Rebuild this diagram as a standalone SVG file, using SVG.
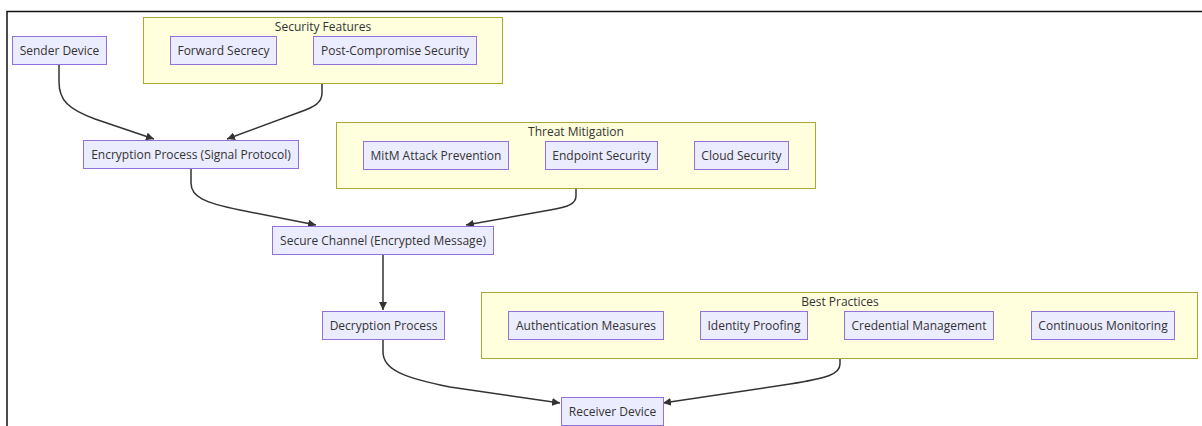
<svg xmlns="http://www.w3.org/2000/svg" width="1202" height="426" viewBox="0 0 1202 426">
  <style>
    .frame { fill: none; stroke: #111; stroke-width: 1.5; }
    .cluster rect { fill: #ffffde; stroke: #aaaa33; stroke-width: 1; }
    .node rect { fill: #ececff; stroke: #9370db; stroke-width: 1; }
    text { font-family: "Open Sans", "Liberation Sans", sans-serif; font-size: 12px; fill: #333; text-anchor: middle; dominant-baseline: central; }
    .edge { fill: none; stroke: #333; stroke-width: 1.5; }
  </style>
  <defs>
    <marker id="arrow" viewBox="0 0 10 10" refX="10" refY="5" markerWidth="8" markerHeight="8" markerUnits="userSpaceOnUse" orient="auto">
      <path d="M0,0 L10,5 L0,10 z" fill="#333"/>
    </marker>
  </defs>

  <!-- outer frame -->
  <path class="frame" d="M7,426 L7,11.5 L1202,11.5"/>

  <!-- clusters -->
  <g id="cluster-security-features" class="cluster">
    <rect x="143.5" y="17.5" width="359" height="66"/>
    <text x="323" y="26">Security Features</text>
  </g>
  <g id="cluster-threat-mitigation" class="cluster">
    <rect x="336.5" y="122.5" width="479" height="66"/>
    <text x="576" y="131">Threat Mitigation</text>
  </g>
  <g id="cluster-best-practices" class="cluster">
    <rect x="481.5" y="292.5" width="716" height="66"/>
    <text x="840" y="301">Best Practices</text>
  </g>

  <!-- connectors -->
  <g id="edges">
    <path class="edge" marker-end="url(#arrow)" d="M59,65 L59,82 C59,100 68,109 95,119 L154,139"/>
    <path class="edge" marker-end="url(#arrow)" d="M322,84 L322,93 C322,103 314,107 300,112 L227,139"/>
    <path class="edge" marker-end="url(#arrow)" d="M191,169 L191,183 C191,197 205,203 240,210 L316,225"/>
    <path class="edge" marker-end="url(#arrow)" d="M576,189 L576,196 C576,204 568,207 550,210 L466,225"/>
    <path class="edge" marker-end="url(#arrow)" d="M383,255 L383,310"/>
    <path class="edge" marker-end="url(#arrow)" d="M383,340 L383,352 C383,370 405,378 450,387 L560,403"/>
    <path class="edge" marker-end="url(#arrow)" d="M840,359 L840,364 C840,374 828,378 790,384 L663,403"/>
  </g>

  <!-- nodes -->
  <g id="sender-device" class="node">
    <rect x="12.5" y="36.5" width="94" height="28"/>
    <text x="59.5" y="50.5">Sender Device</text>
  </g>
  <g id="forward-secrecy" class="node">
    <rect x="170.5" y="36.5" width="106" height="28"/>
    <text x="223.5" y="50.5">Forward Secrecy</text>
  </g>
  <g id="post-compromise-security" class="node">
    <rect x="313.5" y="36.5" width="163" height="28"/>
    <text x="395" y="50.5">Post-Compromise Security</text>
  </g>
  <g id="encryption-process" class="node">
    <rect x="83.5" y="140.5" width="215" height="28"/>
    <text x="191" y="154.5">Encryption Process (Signal Protocol)</text>
  </g>
  <g id="mitm-attack-prevention" class="node">
    <rect x="363.5" y="141.5" width="145" height="28"/>
    <text x="436" y="155.5">MitM Attack Prevention</text>
  </g>
  <g id="endpoint-security" class="node">
    <rect x="545.5" y="141.5" width="112" height="28"/>
    <text x="601.5" y="155.5">Endpoint Security</text>
  </g>
  <g id="cloud-security" class="node">
    <rect x="694.5" y="141.5" width="94" height="28"/>
    <text x="741.5" y="155.5">Cloud Security</text>
  </g>
  <g id="secure-channel" class="node">
    <rect x="272.5" y="226.5" width="221" height="28"/>
    <text x="383" y="240.5">Secure Channel (Encrypted Message)</text>
  </g>
  <g id="decryption-process" class="node">
    <rect x="322.5" y="311.5" width="122" height="28"/>
    <text x="383.5" y="325.5">Decryption Process</text>
  </g>
  <g id="authentication-measures" class="node">
    <rect x="508.5" y="311.5" width="155" height="28"/>
    <text x="586" y="325.5">Authentication Measures</text>
  </g>
  <g id="identity-proofing" class="node">
    <rect x="700.5" y="311.5" width="107" height="28"/>
    <text x="754" y="325.5">Identity Proofing</text>
  </g>
  <g id="credential-management" class="node">
    <rect x="844.5" y="311.5" width="149" height="28"/>
    <text x="919" y="325.5">Credential Management</text>
  </g>
  <g id="continuous-monitoring" class="node">
    <rect x="1031.5" y="311.5" width="143" height="28"/>
    <text x="1103" y="325.5">Continuous Monitoring</text>
  </g>
  <g id="receiver-device" class="node">
    <rect x="561.5" y="397.5" width="102" height="28"/>
    <text x="612.5" y="411.5">Receiver Device</text>
  </g>
</svg>
